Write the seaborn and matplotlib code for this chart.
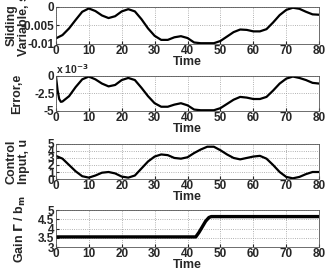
import matplotlib
matplotlib.use("Agg")
import matplotlib.pyplot as plt
import seaborn as sns

# sliding variable s, sampled every 2 time units
t = [0, 2, 4, 6, 8, 10, 12, 14, 16, 18, 20, 22, 24, 26, 28, 30, 32, 34, 36, 38, 40,
     42, 44, 46, 48, 50, 52, 54, 56, 58, 60, 62, 64, 66, 68, 70, 72, 74, 76, 78, 80]
s = [-8.5, -7.6, -5.8, -3.5, -1.3, -0.4, -1.1, -2.3, -3.0, -2.5, -1.2, -0.6, -1.2, -3.3,
     -5.8, -7.8, -8.9, -8.9, -8.2, -7.9, -8.4, -9.6, -9.8, -9.8, -9.8, -9.2, -8.0, -6.8,
     -6.1, -6.2, -6.6, -6.6, -6.0, -4.2, -2.2, -0.8, -0.2, -0.5, -1.3, -2.0, -2.1]
s = [v * 1e-3 for v in s]

# error e (x 1e-3)
t_e = [0, 0.5, 1, 1.5, 2, 4, 6, 8, 10, 12, 14, 16, 18, 20, 22, 24, 26, 28, 30, 32, 34, 36,
       38, 40, 42, 44, 46, 48, 50, 52, 54, 56, 58, 60, 62, 64, 66, 68, 70, 72, 74, 76, 78, 80]
e = [0, -2.0, -3.3, -3.7, -3.65, -2.9, -1.6, -0.5, -0.1, -0.5, -1.1, -1.5, -1.3, -0.6,
     -0.3, -0.6, -1.7, -2.9, -3.9, -4.4, -4.4, -4.1, -3.9, -4.2, -4.8, -4.9, -4.9, -4.9,
     -4.6, -4.0, -3.4, -3.0, -3.1, -3.3, -3.3, -3.0, -2.1, -1.1, -0.4, -0.1, -0.3, -0.6,
     -1.0, -1.1]

# control input u
u = [3.3, 2.9, 2.0, 1.1, 0.4, 0.2, 0.5, 0.9, 1.0, 0.8, 0.35, 0.2, 0.5, 1.5, 2.5, 3.2,
     3.5, 3.4, 3.0, 2.9, 3.1, 3.7, 4.2, 4.6, 4.6, 4.1, 3.5, 3.0, 2.8, 3.0, 3.2, 3.3, 2.9,
     2.0, 1.0, 0.3, 0.1, 0.3, 0.7, 1.0, 1.0]

# adaptive gain
t_g = [0, 42.5, 43.5, 44.5, 45.5, 46.5, 47.2, 80]
g = [3.55, 3.55, 3.8, 4.1, 4.4, 4.6, 4.65, 4.65]

sns.set_style("ticks")
plt.rcParams['font.family'] = ['Liberation Sans', 'DejaVu Sans']
plt.rcParams['font.weight'] = 'bold'
plt.rcParams['axes.labelweight'] = 'bold'
plt.rcParams['mathtext.default'] = 'bf'

fig = plt.figure(figsize=(3.25, 2.68), dpi=100)
left, width = 0.172, 0.81
boxes = [(0.836, 0.138), (0.586, 0.131), (0.332, 0.131), (0.078, 0.138)]
axes = [fig.add_axes([left, b, width, h]) for b, h in boxes]

sns.lineplot(x=t, y=s, ax=axes[0], color='black', lw=1.6)
sns.lineplot(x=t_e, y=e, ax=axes[1], color='black', lw=1.6)
sns.lineplot(x=t, y=u, ax=axes[2], color='black', lw=1.6)
sns.lineplot(x=t_g, y=g, ax=axes[3], color='black', lw=2.4)

lab = dict(fontsize=9, fontweight='bold', linespacing=1.0)

axes[0].set_ylim(-0.01, 0)
axes[0].set_yticks([-0.01, -0.005, 0])
axes[0].set_yticklabels(['-0.01', '-0.005', '0'])
axes[0].set_ylabel('Sliding\nVariable, s', **lab)
axes[0].yaxis.set_label_coords(-0.10, 0.5)

axes[1].set_ylim(-5, 0)
axes[1].set_yticks([-5, -2.5, 0])
axes[1].set_yticklabels(['-5', '-2.5', '0'])
axes[1].set_ylabel('Error,e', **lab)
axes[1].yaxis.set_label_coords(-0.125, 0.5)
axes[1].text(0.0, 1.0, r'x 10$^{-3}$', transform=axes[1].transAxes,
             fontsize=7.5, fontweight='bold', va='bottom', ha='left')

axes[2].set_ylim(0, 5)
axes[2].set_yticks([0, 1, 2, 3, 4, 5])
axes[2].set_ylabel('Control\nInput, u', **lab)
axes[2].yaxis.set_label_coords(-0.10, 0.5)

axes[3].set_ylim(3, 5)
axes[3].set_yticks([3, 3.5, 4, 4.5, 5])
axes[3].set_yticklabels(['3', '3.5', '4', '4.5', '5'])
axes[3].set_ylabel(r'Gain $\Gamma$ / b$_m$', **lab)
axes[3].yaxis.set_label_coords(-0.105, 0.5)

for ax in axes:
    ax.set_xlim(0, 80)
    ax.set_xticks(range(0, 81, 10))
    ax.set_xlabel('Time', labelpad=-1, fontsize=9, fontweight='bold')
    ax.grid(True, ls=':', color='#999999', lw=0.6)
    ax.tick_params(direction='in', length=2, pad=1, labelsize=8.5)
    for lbl in ax.get_xticklabels() + ax.get_yticklabels():
        lbl.set_fontweight('bold')
    for sp in ax.spines.values():
        sp.set_visible(True)
        sp.set_color('#555555')
        sp.set_linewidth(0.6)

fig.savefig('out.png', dpi=100)
